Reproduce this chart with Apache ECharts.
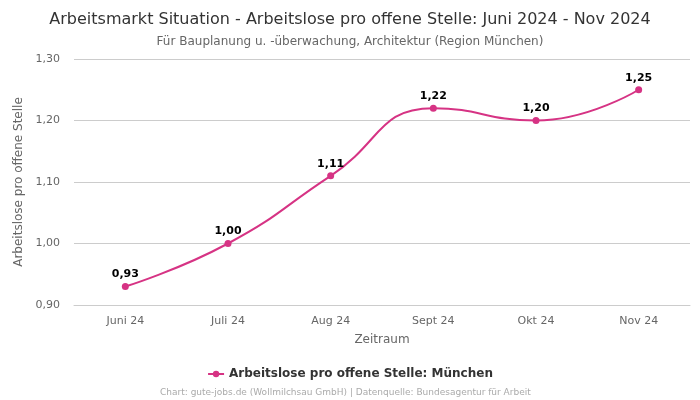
<!DOCTYPE html>
<html><head><meta charset="utf-8">
<script src="https://cdn.jsdelivr.net/npm/echarts@6/dist/echarts.min.js"></script>
<style>html,body{margin:0;padding:0;background:#fff}#c{width:700px;height:400px}</style>
</head><body><div id="c"></div>
<script>
var categories = ['Juni 24','Juli 24','Aug 24','Sept 24','Okt 24','Nov 24'];
var values = [0.93, 1.00, 1.11, 1.22, 1.20, 1.25];
var seriesName = 'Arbeitslose pro offene Stelle: München';
var F = 'DejaVu Sans';
var chart = echarts.init(document.getElementById('c'));
chart.setOption({
  animation:false,
  textStyle:{fontFamily:F},
  title:[{text:'Arbeitsmarkt Situation - Arbeitslose pro offene Stelle: Juni 2024 - Nov 2024',left:'center',top:7,textStyle:{fontFamily:F,fontSize:16,fontWeight:'normal',color:'#333'}},
         {text:'Für Bauplanung u. -überwachung, Architektur (Region München)',left:'center',top:31,textStyle:{fontFamily:F,fontSize:12,fontWeight:'normal',color:'#666'}},
         {text:'Chart: gute-jobs.de (Wollmilchsau GmbH) | Datenquelle: Bundesagentur für Arbeit',left:155,top:383,textStyle:{fontFamily:F,fontSize:9,fontWeight:'normal',color:'#aaa'}}],
  grid:{left:74,right:10,top:59,bottom:95},
  legend:{bottom:15,left:'center',itemWidth:16,itemHeight:8,itemGap:10,textStyle:{fontFamily:F,fontSize:12,fontWeight:'bold',color:'#333'},data:[seriesName]},
  xAxis:{type:'category',data:categories,name:'Zeitraum',nameLocation:'middle',nameGap:29,nameTextStyle:{color:'#666',fontSize:12},
    axisLine:{lineStyle:{color:'#ccc'}},axisTick:{show:false},axisLabel:{color:'#666',fontSize:11,margin:11}},
  yAxis:{type:'value',min:0.9,max:1.3,interval:0.1,name:'Arbeitslose pro offene Stelle',nameLocation:'middle',nameGap:48,nameTextStyle:{color:'#666',fontSize:12},
    axisLabel:{color:'#666',fontSize:11,margin:14,formatter:function(v){return v.toFixed(2).replace('.',',');}},
    splitLine:{lineStyle:{color:'#ccc'}},axisLine:{show:false},axisTick:{show:false}},
  series:[{name:seriesName,type:'line',data:values,smooth:true,symbol:'circle',symbolSize:7,
    itemStyle:{color:'#d63384'},lineStyle:{color:'#d63384',width:2},
    label:{show:true,position:'top',distance:3,fontFamily:F,fontSize:11,fontWeight:'bold',color:'#000',formatter:function(p){return p.value.toFixed(2).replace('.',',');}}}]
});
</script></body></html>
